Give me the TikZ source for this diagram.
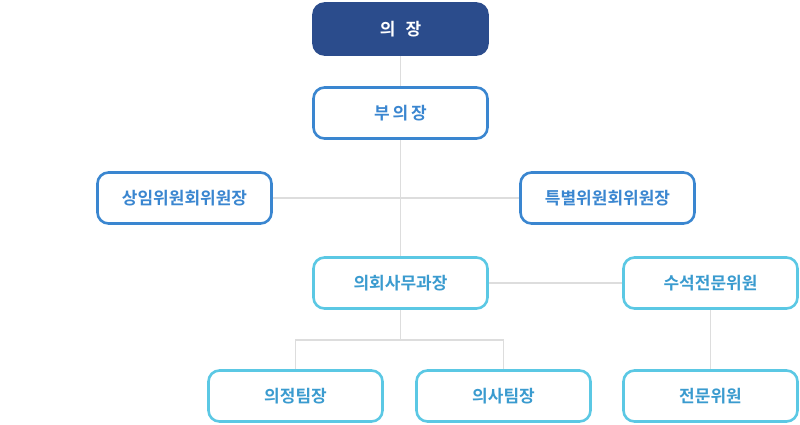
\documentclass[tikz,border=0pt]{standalone}
\usepackage{fontspec}
\setmainfont{Noto Sans CJK KR}[BoldFont={* Bold}]
\usetikzlibrary{backgrounds}
\definecolor{navy}{HTML}{2B4C8C}
\definecolor{blueb}{HTML}{3A86D0}
\definecolor{cyanb}{HTML}{5BC8E4}
\definecolor{cyant}{HTML}{3A9BCF}
\definecolor{linec}{HTML}{DDDDDD}
\begin{document}
\begin{tikzpicture}[x=1pt,y=-1pt,
  box/.style={rounded corners=11pt,minimum width=174pt,minimum height=51pt,line width=2.6pt,fill=white,font=\bfseries\fontsize{17}{20}\selectfont,inner sep=0pt},
  top/.style={box,fill=navy,draw=navy,text=white},
  lvA/.style={box,draw=blueb,text=blueb},
  lvB/.style={box,draw=cyanb,text=cyant},
  conn/.style={draw=linec,line width=1.2pt}]
\useasboundingbox (0,0) rectangle (800,424);
\node[top] (ch) at (400.5,29) {의\hspace{0.6em}장};
\node[lvA] (vc) at (400.5,113) {부\,의\,장};
\node[lvA] (sc) at (184.5,198) {상임위원회위원장};
\node[lvA] (sp) at (607.5,198) {특별위원회위원장};
\node[lvB] (dir) at (400.5,283) {의회사무과장};
\node[lvB] (ex) at (710.5,283) {수석전문위원};
\node[lvB] (t1) at (295.5,396) {의정팀장};
\node[lvB] (t2) at (503.5,396) {의사팀장};
\node[lvB] (sp2) at (710.5,396) {전문위원};
\coordinate (k) at (400.5,340);
\begin{scope}[on background layer]
\path[conn] (ch.south) -- (vc.north) (vc.south) -- (dir.north)
  (sc.east) -- (sp.west) (dir.east) -- (ex.west) (ex.south) -- (sp2.north)
  (dir.south) -- (k) (t1.north) |- (k) -| (t2.north);
\end{scope}
\end{tikzpicture}
\end{document}
